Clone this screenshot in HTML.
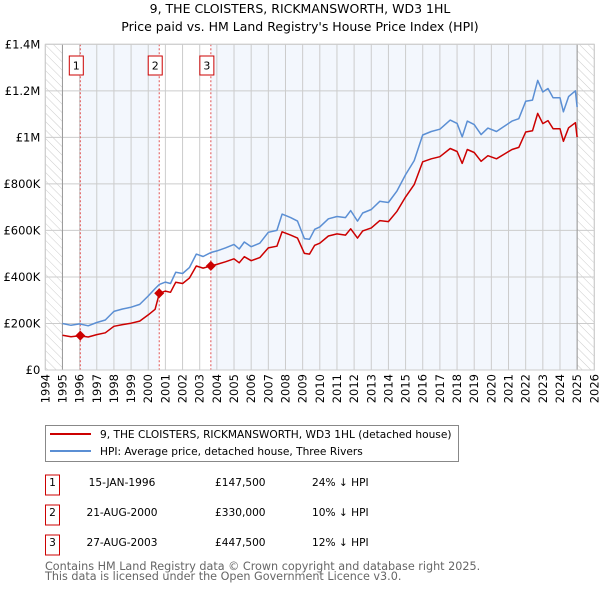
<!DOCTYPE html>
<html><head><meta charset="utf-8"><style>
body{margin:0;background:#fff;font-family:"DejaVu Sans","Liberation Sans",sans-serif;}
svg text{font-family:"DejaVu Sans","Liberation Sans",sans-serif;}
</style></head><body>
<svg id="chart" width="600" height="590" xmlns="http://www.w3.org/2000/svg">
<defs><pattern id="hatch" width="6" height="6" patternUnits="userSpaceOnUse" patternTransform="rotate(-45)"><line x1="0" y1="0" x2="0" y2="6" stroke="#ccc" stroke-width="1"/></pattern></defs>
<text x="300" y="13" text-anchor="middle" font-size="12.5" fill="#000">9, THE CLOISTERS, RICKMANSWORTH, WD3 1HL</text>
<text x="300" y="31" text-anchor="middle" font-size="12.5" fill="#000">Price paid vs. HM Land Registry's House Price Index (HPI)</text>
<g id="plot"></g>
<g>
<rect x="45.5" y="425.5" width="413" height="36" fill="#fff" stroke="#888"/>
<line x1="50" y1="434" x2="91" y2="434" stroke="#cc0000" stroke-width="2"/>
<text x="100" y="438" font-size="10.6">9, THE CLOISTERS, RICKMANSWORTH, WD3 1HL (detached house)</text>
<line x1="50" y1="451" x2="91" y2="451" stroke="#5b8fd4" stroke-width="2"/>
<text x="100" y="455" font-size="10.6">HPI: Average price, detached house, Three Rivers</text>
</g>
<g id="table" font-size="10.6"></g>
<text x="45" y="570" font-size="11.2" fill="#666">Contains HM Land Registry data © Crown copyright and database right 2025.</text>
<text x="45" y="580" font-size="11.2" fill="#666">This data is licensed under the Open Government Licence v3.0.</text>
</svg>
<script>
const dates=[1995.0,1995.5,1996.0,1996.5,1997.0,1997.5,1998.0,1998.5,1999.0,1999.5,2000.0,2000.4,2000.65,2001.0,2001.3,2001.6,2002.0,2002.4,2002.8,2003.2,2003.65,2004.0,2004.5,2005.0,2005.3,2005.6,2006.0,2006.5,2007.0,2007.5,2007.8,2008.3,2008.7,2009.1,2009.4,2009.7,2010.0,2010.5,2011.0,2011.5,2011.8,2012.2,2012.5,2013.0,2013.5,2014.0,2014.5,2015.0,2015.5,2016.0,2016.5,2017.0,2017.6,2018.0,2018.3,2018.6,2019.0,2019.4,2019.8,2020.3,2020.8,2021.2,2021.6,2022.0,2022.4,2022.7,2023.0,2023.3,2023.6,2024.0,2024.2,2024.5,2024.9,2025.0];
const hpiValues=[200,192,198,190,204,215,252,262,270,282,318,350,368,378,372,420,415,440,498,488,505,512,525,540,520,550,530,545,592,600,670,655,640,565,562,605,615,650,660,655,685,640,675,690,725,720,770,840,900,1010,1025,1035,1074,1060,1002,1070,1055,1012,1040,1025,1050,1070,1080,1155,1160,1245,1195,1210,1170,1170,1110,1175,1200,1130];
const priceValues=[149,143,147.5,142,152,160,188,195,201,210,237,261,330,339,334,377,372,395,447,438,447.5,454,465,478,461,487,470,483,525,532,594,580,567,501,498,536,545,576,585,580,607,567,598,611,642,638,682,744,797,895,908,917,952,939,888,948,935,897,921,908,930,948,957,1023,1028,1103,1059,1072,1037,1037,983,1041,1063,1001];
const saleLabels=["1","2","3"];
const saleDates=[1996.04,2000.64,2003.65];
const saleDateText=["15-JAN-1996","21-AUG-2000","27-AUG-2003"];
const salePrices=[147.5,330,447.5];
const salePriceText=["£147,500","£330,000","£447,500"];
const saleHpiText=["24% ↓ HPI","10% ↓ HPI","12% ↓ HPI"];
const yTicks=[0,200,400,600,800,1000,1200,1400];
const yTickLabels=["£0","£200K","£400K","£600K","£800K","£1M","£1.2M","£1.4M"];
const xTicks=[1994,1995,1996,1997,1998,1999,2000,2001,2002,2003,2004,2005,2006,2007,2008,2009,2010,2011,2012,2013,2014,2015,2016,2017,2018,2019,2020,2021,2022,2023,2024,2025,2026];

const NS="http://www.w3.org/2000/svg";
const X0=45.3,X1=594.3,Y0=370,Y1=44.3;
const xs=y=>X0+(y-1994)/32*(X1-X0);
const ys=v=>Y0-(v/1400)*(Y0-Y1);
const plot=document.getElementById('plot');
function mk(tag,attrs,parent){const e=document.createElementNS(NS,tag);for(const k in attrs)e.setAttribute(k,attrs[k]);(parent||plot).appendChild(e);return e;}

let e;
e=mk('rect',{x:X0,y:Y1,width:X1-X0,height:Y0-Y1,fill:'#fff'});


const bands=[[saleDates[0],saleDates[1]],[saleDates[2],2025]];
bands.forEach(b=>{e=mk('rect',{x:xs(b[0]),y:Y1,width:xs(b[1])-xs(b[0]),height:Y0-Y1,fill:'#f3f7fd'});

});
e=mk('rect',{x:X0,y:Y1,width:xs(1995)-X0,height:Y0-Y1,fill:'url(#hatch)'});


e=mk('rect',{x:xs(2025),y:Y1,width:X1-xs(2025),height:Y0-Y1,fill:'url(#hatch)'});


xTicks.forEach((t,i)=>{e=mk('line',{x1:xs(t),x2:xs(t),y1:Y1,y2:Y0,stroke:'#ccc','stroke-width':1});


const tx=xs(t)+4,ty=Y0+4;
e=mk('text',{x:tx,y:ty,'text-anchor':'end','font-size':11.5,transform:`rotate(-90 ${tx} ${ty})`});
e.textContent=t;

});
yTicks.forEach((t,i)=>{e=mk('line',{x1:X0,x2:X1,y1:ys(t),y2:ys(t),stroke:'#ccc','stroke-width':1});


e=mk('text',{x:X0-5,y:ys(t)+4,'text-anchor':'end','font-size':11.5});
e.textContent=yTickLabels[i];

});
e=mk('line',{x1:xs(1995),x2:xs(1995),y1:Y1,y2:Y0,stroke:'#999','stroke-width':1});


e=mk('line',{x1:xs(2025),x2:xs(2025),y1:Y1,y2:Y0,stroke:'#999','stroke-width':1});


saleDates.forEach((d,i)=>{const x=xs(d);
e=mk('line',{x1:x,x2:x,y1:Y1,y2:Y0,stroke:'#e05050','stroke-width':1,'stroke-dasharray':'2,2'});


e=mk('rect',{x:x-11,y:56,width:14,height:19,fill:'#fff',stroke:'#cc0000','stroke-width':1});


e=mk('text',{x:x-4,y:69.5,'text-anchor':'middle','font-size':11});
e.textContent=saleLabels[i];

});
const pts=arr=>arr.map((v,i)=>xs(dates[i]).toFixed(1)+','+ys(v).toFixed(1)).join(' ');
e=mk('polyline',{points:pts(hpiValues),fill:'none',stroke:'#5b8fd4','stroke-width':1.5,'stroke-linejoin':'round'});


e=mk('polyline',{points:pts(priceValues),fill:'none',stroke:'#cc0000','stroke-width':1.5,'stroke-linejoin':'round'});


saleDates.forEach((d,i)=>{const x=xs(d),y=ys(salePrices[i]);
e=mk('polygon',{points:`${x},${y-5} ${x+5},${y} ${x},${y+5} ${x-5},${y}`,fill:'#cc0000'});

});
e=mk('rect',{x:X0,y:Y1,width:X1-X0,height:Y0-Y1,fill:'none',stroke:'#ccc'});


const tb=document.getElementById('table');
saleLabels.forEach((l,i)=>{const cy=485+i*30;
e=mk('rect',{x:45.5,y:cy-10,width:14,height:20,fill:'#fff',stroke:'#cc0000'},tb);


e=mk('text',{x:52.5,y:cy+1,'text-anchor':'middle'},tb);e.textContent=l;


e=mk('text',{x:122,y:cy+1,'text-anchor':'middle'},tb);e.textContent=saleDateText[i];


e=mk('text',{x:215,y:cy+1},tb);e.textContent=salePriceText[i];


e=mk('text',{x:312,y:cy+1},tb);e.textContent=saleHpiText[i];

});
</script>
</body></html>
